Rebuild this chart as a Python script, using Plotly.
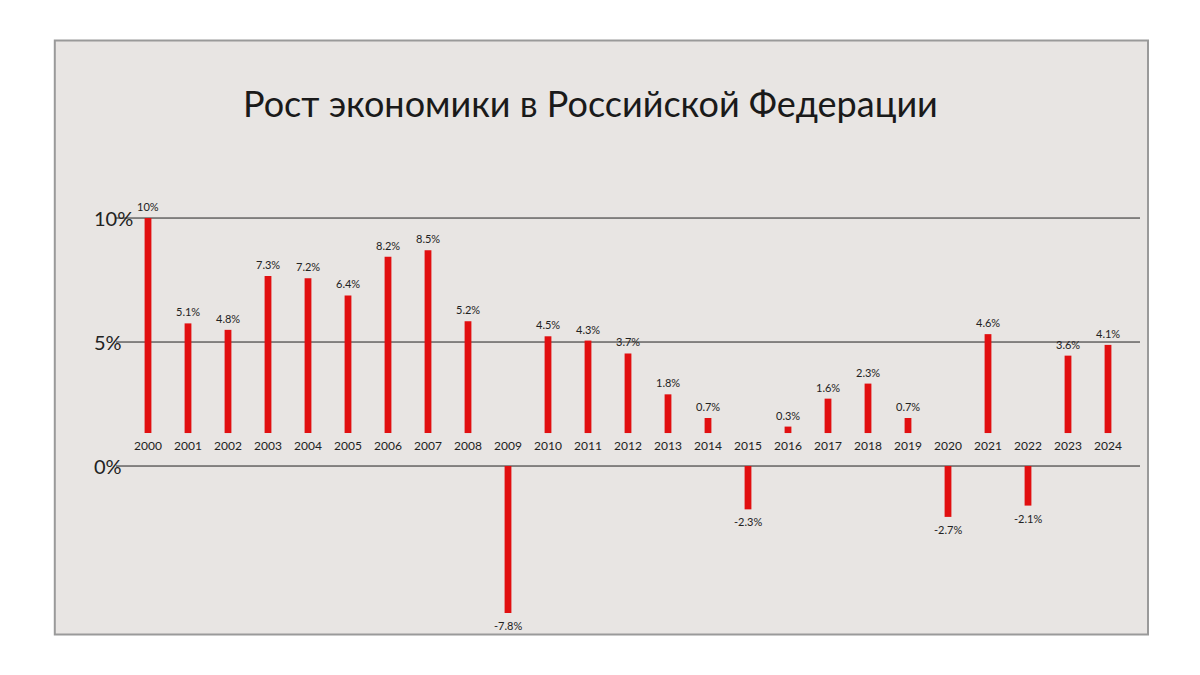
import plotly.graph_objects as go

years = list(range(2000, 2025))
growth = [10, 5.1, 4.8, 7.3, 7.2, 6.4, 8.2, 8.5, 5.2, -7.8, 4.5, 4.3, 3.7, 1.8, 0.7,
          -2.3, 0.3, 1.6, 2.3, 0.7, -2.7, 4.6, -2.1, 3.6, 4.1]
labels = ["10%", "5.1%", "4.8%", "7.3%", "7.2%", "6.4%", "8.2%", "8.5%", "5.2%", "-7.8%",
          "4.5%", "4.3%", "3.7%", "1.8%", "0.7%", "-2.3%", "0.3%", "1.6%", "2.3%", "0.7%",
          "-2.7%", "4.6%", "-2.1%", "3.6%", "4.1%"]
grid_vals = [0, 5, 10]
grid_text = ["0%", "5%", "10%"]

# the picture draws positive bars from a raised baseline, negative bars from the 0% line
POS_BASE, POS_SCALE, NEG_SCALE = 1.33, 0.867, 0.76
bases = [POS_BASE if v > 0 else 0 for v in growth]
heights = [v * POS_SCALE if v > 0 else v * NEG_SCALE for v in growth]

fig = go.Figure()
fig.add_trace(go.Bar(x=years, y=heights, base=bases, width=0.17,
                     marker=dict(color="#e10f10", line=dict(width=0)),
                     hoverinfo="skip"))

ann = []
for yr, v, b, h, t in zip(years, growth, bases, heights, labels):
    if v > 0:
        ann.append(dict(x=yr, y=b + h, text=t, showarrow=False, yanchor="bottom", yshift=3,
                        font=dict(size=11, color="#222")))
        ann.append(dict(x=yr, y=b, text=str(yr), showarrow=False, yanchor="top", yshift=-3,
                        font=dict(size=12, color="#222")))
    else:
        ann.append(dict(x=yr, y=b + h, text=t, showarrow=False, yanchor="top", yshift=-4,
                        font=dict(size=11, color="#222")))
        ann.append(dict(x=yr, y=POS_BASE, text=str(yr), showarrow=False, yanchor="top", yshift=-3,
                        font=dict(size=12, color="#222")))
for gv, gt in zip(grid_vals, grid_text):
    ann.append(dict(x=0.07, xref="paper", y=gv, text=gt, showarrow=False,
                    font=dict(size=20, color="#222")))
ann.append(dict(x=0.485, xref="paper", y=0.895, yref="paper", text="Рост экономики в Российской Федерации",
                showarrow=False, font=dict(size=36, color="#1a1a1a", family="Lato")))

shapes = [dict(type="rect", xref="paper", yref="paper", x0=0.039, x1=0.95, y0=0.072, y1=0.952,
               fillcolor="#e8e5e3", line=dict(color="#9a9a9a", width=2), layer="below")]
for gv in grid_vals:
    shapes.append(dict(type="line", x0=1999.2, x1=2024.8, y0=gv, y1=gv,
                       line=dict(color="#222", width=1), layer="below"))

fig.update_layout(width=1200, height=675, margin=dict(l=0, r=0, t=0, b=0),
                  paper_bgcolor="white", plot_bgcolor="rgba(0,0,0,0)",
                  font=dict(family="Lato"), showlegend=False,
                  xaxis=dict(range=[1996.5, 2026.5], visible=False),
                  yaxis=dict(range=[-8.75, 18.47], visible=False),
                  annotations=ann, shapes=shapes)
fig.write_html("out.html")
